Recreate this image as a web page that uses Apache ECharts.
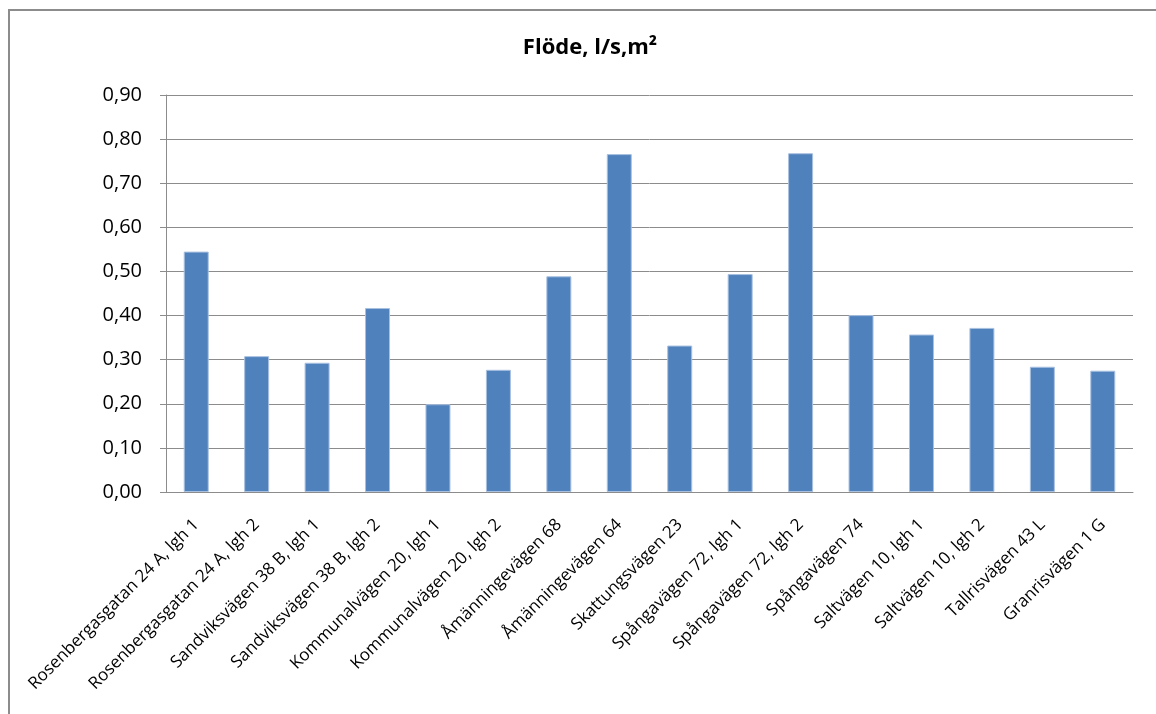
<!DOCTYPE html>
<html>
<head>
<meta charset="utf-8">
<title>Flöde</title>
<script src="https://cdn.jsdelivr.net/npm/echarts@6/dist/echarts.min.js"></script>
<style>
  html, body { margin: 0; padding: 0; background: #fff; }
  #chart { width: 1156px; height: 714px; }
</style>
</head>
<body>
<div id="chart"></div>
<script>
var categories = [
  'Rosenbergasgatan 24 A, lgh 1', 'Rosenbergasgatan 24 A, lgh 2',
  'Sandviksvägen 38 B, lgh 1', 'Sandviksvägen 38 B, lgh 2',
  'Kommunalvägen 20, lgh 1', 'Kommunalvägen 20, lgh 2',
  'Åmänningevägen 68', 'Åmänningevägen 64', 'Skattungsvägen 23',
  'Spångavägen 72, lgh 1', 'Spångavägen 72, lgh 2', 'Spångavägen 74',
  'Saltvägen 10, lgh 1', 'Saltvägen 10, lgh 2', 'Tallrisvägen 43 L',
  'Granrisvägen 1 G'
];
var flow = [0.545, 0.308, 0.293, 0.417, 0.199, 0.277, 0.489, 0.766,
            0.332, 0.494, 0.768, 0.401, 0.357, 0.372, 0.284, 0.275];
var yMin = 0, yMax = 0.9, yStep = 0.1;

var font = '"Open Sans", "DejaVu Sans", sans-serif';
var chart = echarts.init(document.getElementById('chart'));
chart.setOption({
  animation: false,
  title: {
    text: 'Flöde, l/s,m²',
    left: 585, top: 32, textAlign: 'center',
    textStyle: { fontFamily: font, fontSize: 22, fontWeight: 'bold', color: '#000' }
  },
  graphic: [{
    type: 'rect',
    shape: { x: 9, y: 10, width: 1200, height: 760 },
    style: { fill: 'none', stroke: '#8c8c8c', lineWidth: 2 },
    silent: true
  }],
  grid: { left: 166, right: 23, top: 95, bottom: 222 },
  xAxis: {
    type: 'category',
    data: categories,
    axisLine: { lineStyle: { color: '#8c8c8c', width: 1 } },
    axisTick: { length: 6, lineStyle: { color: '#8c8c8c' } },
    axisLabel: {
      interval: 0, rotate: 45, margin: 30,
      fontFamily: font, fontSize: 17, color: '#000'
    }
  },
  yAxis: {
    type: 'value',
    min: yMin, max: yMax, interval: yStep,
    axisLine: { show: true, lineStyle: { color: '#8c8c8c', width: 1 } },
    axisTick: { show: true, length: 6, lineStyle: { color: '#8c8c8c' } },
    splitLine: { lineStyle: { color: '#8c8c8c', width: 1 } },
    axisLabel: {
      margin: 24, fontFamily: font, fontSize: 20, color: '#000',
      formatter: function (v) { return v.toFixed(2).replace('.', ','); }
    }
  },
  series: [{
    type: 'bar',
    data: flow,
    barWidth: 25,
    itemStyle: { color: '#4f81bd', borderColor: '#a9c1e0', borderWidth: 1 }
  }]
});
</script>
</body>
</html>
